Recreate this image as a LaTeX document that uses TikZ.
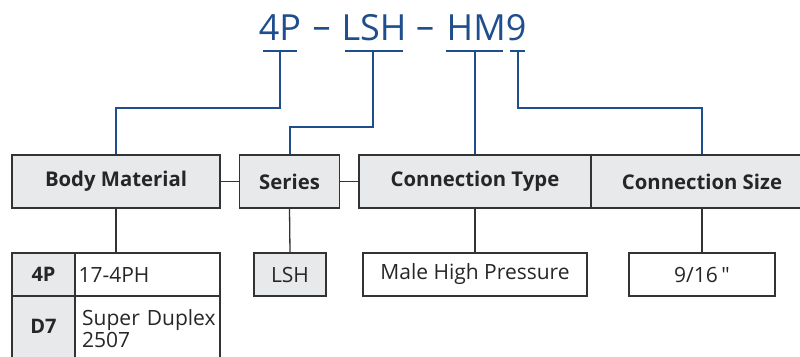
\documentclass[tikz,border=0pt]{standalone}
\usepackage{fontspec}
\setmainfont{Open Sans}
\newfontfamily\plainqfont{Open Sans}[Ligatures=TeXOff]
\definecolor{tblue}{HTML}{1F4E8C}
\definecolor{boxgray}{HTML}{E8E9EA}
\definecolor{edge}{HTML}{333333}
\begin{document}
\begin{tikzpicture}[x=1pt,y=-1pt,
  hdr/.style={draw=edge,line width=1.3pt,fill=boxgray,minimum height=53pt,inner sep=0pt,font=\fontsize{20.3}{24}\selectfont\bfseries,text=black!85},
  cell/.style={draw=edge,line width=1.3pt,minimum height=43pt,inner sep=0pt,font=\fontsize{21}{24}\selectfont,text=black!85},
  ttl/.style={text=tblue,inner sep=0pt,font=\fontsize{36}{40}\selectfont},
  bl/.style={tblue,line width=2pt},
  kl/.style={edge,line width=1.3pt}]
\clip (0,0) rectangle (800,356);
% title
\node[ttl] (t4) at (280,28) {4P};
\node[ttl] (d1) at (321.5,33) {–};
\node[ttl] (tl) at (374,28) {LSH};
\node[ttl] (d2) at (425,33) {–};
\node[ttl] (th) at (486.5,28) {HM9};
% bracket coordinates
\coordinate (a1) at (263,51); \coordinate (a2) at (297,51); \coordinate (am) at (280,51);
\coordinate (b1) at (345,51); \coordinate (b2) at (403,51); \coordinate (bm) at (373,51);
\coordinate (c1) at (446,51); \coordinate (c2) at (503,51); \coordinate (cm) at (475,51);
\coordinate (e1) at (510,51); \coordinate (e2) at (525,51); \coordinate (em) at (518,51);
% header boxes
\node[hdr,minimum width=208pt] (body) at (116,181.5) {Body Material};
\node[hdr,minimum width=100pt] (ser) at (289.5,181.5) {Series};
\node[hdr,minimum width=232pt] (ctype) at (475,181.5) {Connection Type};
\node[hdr,minimum width=222pt] (csize) at (702,181.5) {Connection Size};
% blue brackets
\draw[bl] (a1) -- (a2); \draw[bl] (b1) -- (b2); \draw[bl] (c1) -- (c2); \draw[bl] (e1) -- (e2);
\draw[bl] (am) -- ++(0,57) -| (body.north);
\draw[bl] (bm) -- ++(0,76) -| (ser.north);
\draw[bl] (cm) -- (ctype.north);
\draw[bl] (em) -- ++(0,57) -| (csize.north);
% lower cells
\node[cell,fill=boxgray,minimum width=63pt,font=\fontsize{20}{24}\selectfont\bfseries] (k4) at (43.5,274.5) {4P};
\node[cell,minimum width=145pt,text width=138pt,align=left] (v4) at (147.5,274.5) {17-4PH};
\node[cell,fill=boxgray,minimum width=63pt,minimum height=74pt] (k7) at (43.5,333) {};
\node[font=\fontsize{20}{24}\selectfont\bfseries,text=black!85,inner sep=0pt] (k7t) at (43.5,326) {D7};
\node[cell,minimum width=145pt,minimum height=74pt] (v7) at (147.5,333) {};
\node[font=\fontsize{21}{22}\selectfont,text=black!85,text width=138pt,align=left,inner sep=0pt,anchor=north west] (v7t) at (82,309) {Super Duplex\\2507};
\node[cell,fill=boxgray,minimum width=72pt] (lsh) at (290,274.5) {LSH};
\node[cell,minimum width=224pt] (mhp) at (475,274.5) {Male High Pressure};
\node[cell,minimum width=146pt] (sz) at (702,274.5) {9/16\,{\plainqfont"}};
% black connectors
\draw[kl] (body.east) -- (ser.west);
\draw[kl] (ser.east) -- (ctype.west);
\draw[kl] (body.south) -- (body.south |- v4.north);
\draw[kl] (ser.south) -- (lsh.north);
\draw[kl] (ctype.south) -- (mhp.north);
\draw[kl] (csize.south) -- (sz.north);
\end{tikzpicture}
\end{document}
